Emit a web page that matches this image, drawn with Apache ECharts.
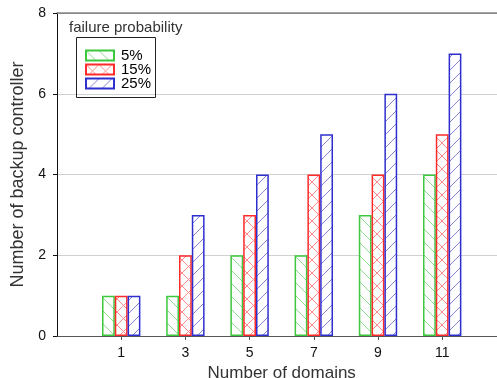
<!DOCTYPE html>
<html><head><meta charset="utf-8">
<script src="https://cdn.jsdelivr.net/npm/echarts@6/dist/echarts.min.js"></script>
<style>html,body{margin:0;padding:0;background:#fff}#c{width:497px;height:378px}</style>
</head><body><div id="c"></div><script>
// ---- data ----
const domains = [1, 3, 5, 7, 9, 11];
const seriesNames = ['5%', '15%', '25%'];
const prob5 = [1, 1, 2, 2, 3, 4];
const prob15 = [1, 2, 3, 4, 4, 5];
const prob25 = [1, 3, 4, 5, 6, 7];
const yTicks = [0, 2, 4, 6, 8];
const legendTitle = 'failure probability';
const xTitle = 'Number of domains';
const yTitle = 'Number of backup controller';

// ---- hatch patterns ----
function hatch(lineColor, kind) {
  const s = 13;
  const c = document.createElement('canvas');
  c.width = s; c.height = s;
  const g = c.getContext('2d');
  g.fillStyle = '#fff'; g.fillRect(0, 0, s, s);
  g.strokeStyle = lineColor; g.lineWidth = 1;
  function line(x1, y1, x2, y2) { g.beginPath(); g.moveTo(x1, y1); g.lineTo(x2, y2); g.stroke(); }
  if (kind === 'back' || kind === 'cross') { line(-1, -1, s + 1, s + 1); line(-1, s - 1, 1, s + 1); line(s - 1, -1, s + 1, 1); }
  if (kind === 'fwd' || kind === 'cross') { line(-1, s + 1, s + 1, -1); line(-1, 1, 1, -1); line(s - 1, s + 1, s + 1, s - 1); }
  return { image: c, repeat: 'repeat' };
}
const styles = [
  { border: '#3dc73d', fill: hatch('#8fdc8f', 'back') },
  { border: '#ff2a2a', fill: hatch('#ff8a8a', 'cross') },
  { border: '#2f2fcf', fill: hatch('#8585dc', 'fwd') }
];
const values = [prob5, prob15, prob25];

const chart = echarts.init(document.getElementById('c'), null, { renderer: 'canvas' });
const font = 'Liberation Sans, Arial, sans-serif';
chart.setOption({
  animation: false,
  textStyle: { fontFamily: font },
  title: {
    text: legendTitle, left: 69, top: 20, padding: 0,
    textStyle: { fontSize: 15, fontWeight: 'normal', color: '#333', fontFamily: font }
  },
  legend: {
    data: seriesNames, orient: 'vertical', left: 85, top: 48, padding: 0,
    itemWidth: 28, itemHeight: 10, itemGap: -1, icon: 'rect',
    textStyle: { fontSize: 15, color: '#000', lineHeight: 15, padding: [0, 0, 0, 2], fontFamily: font }
  },
  graphic: [{
    type: 'rect', shape: { x: 76.5, y: 37.5, width: 79, height: 60 },
    style: { fill: 'none', stroke: '#222', lineWidth: 1 }, z: 100, silent: true
  }],
  grid: { left: 57, top: 13, width: 449.4, height: 323, containLabel: false, outerBoundsMode: 'none' },
  xAxis: [{
    type: 'value', min: -1, max: 13,
    name: xTitle, nameLocation: 'middle', nameGap: 19,
    nameTextStyle: { fontSize: 17, color: '#333', fontFamily: font },
    axisLine: { show: true, onZero: false, lineStyle: { color: '#555', width: 1 } },
    axisTick: { show: true, length: 4, customValues: domains, lineStyle: { color: '#555' } },
    axisLabel: { customValues: domains, fontSize: 14, color: '#111', margin: 10, fontFamily: font },
    splitLine: { show: false }
  }, {
    type: 'value', min: -1, max: 13, position: 'top',
    axisLine: { show: true, onZero: false, lineStyle: { color: '#888', width: 1.5 } },
    axisTick: { show: false }, axisLabel: { show: false }, splitLine: { show: false }
  }],
  yAxis: {
    type: 'value', min: yTicks[0], max: yTicks[yTicks.length - 1], interval: 2,
    name: yTitle, nameLocation: 'middle', nameGap: 27,
    nameTextStyle: { fontSize: 18, color: '#333', fontFamily: font },
    axisLine: { show: true, onZero: false, lineStyle: { color: '#111', width: 1 } },
    axisTick: { show: true, length: 4, lineStyle: { color: '#111' } },
    axisLabel: { fontSize: 14, color: '#111', margin: 11, fontFamily: font },
    splitLine: { show: true, lineStyle: { color: ['#d0d0d0', '#d0d0d0', '#d0d0d0', '#d0d0d0', '#888'], width: 1 } }
  },
  series: seriesNames.map((n, k) => ({
    name: n, type: 'bar', xAxisIndex: 0,
    barWidth: 12.8, barGap: '0%',
    data: domains.map((d, i) => [d, values[k][i]]),
    itemStyle: { color: styles[k].fill, borderColor: styles[k].border, borderWidth: 1.5 }
  }))
});
</script></body></html>
